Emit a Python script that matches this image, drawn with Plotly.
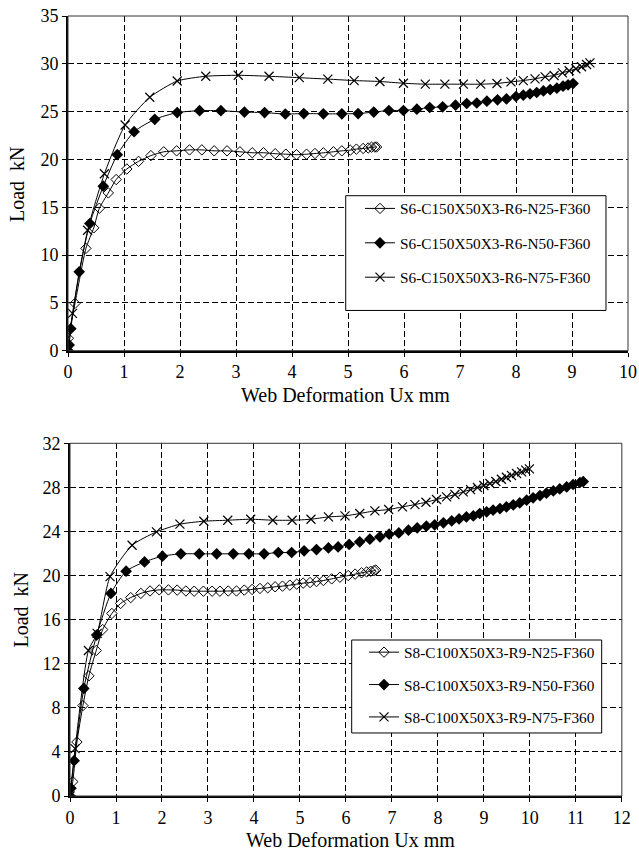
import plotly.graph_objects as go

# ---- Upper chart: S6-C150X50X3-R6 series ----
top_n25_x = [0, 0.006, 0.125, 0.32, 0.46, 0.56, 0.72, 0.86, 1.05, 1.26, 1.48, 1.71, 1.94, 2.17, 2.39,
             2.61, 2.84, 3.07, 3.29, 3.49, 3.70, 3.89, 4.08, 4.26, 4.41, 4.56, 4.74, 4.89, 5.04,
             5.15, 5.27, 5.36, 5.42, 5.48, 5.51]
top_n25_y = [0, 1.3, 4.95, 10.7, 12.85, 14.9, 16.5, 17.9, 19.0, 19.8, 20.4, 20.8, 20.9, 21.0, 21.0,
             20.9, 20.9, 20.8, 20.7, 20.7, 20.6, 20.55, 20.5, 20.55, 20.62, 20.69, 20.8, 20.9, 20.97,
             21.08, 21.15, 21.2, 21.28, 21.3, 21.3]

top_n50_x = [0, 0.02, 0.05, 0.2, 0.39, 0.63, 0.88, 1.18, 1.55, 1.95, 2.35, 2.73, 3.15, 3.51, 3.88,
             4.21, 4.56, 4.89, 5.18, 5.46, 5.73, 5.99, 6.23, 6.46, 6.69, 6.92, 7.12, 7.30, 7.48,
             7.67, 7.83, 8.0, 8.13, 8.25, 8.37, 8.49, 8.61, 8.73, 8.84, 8.93, 9.02]
top_n50_y = [0, 0.6, 2.3, 8.25, 13.3, 17.2, 20.5, 22.9, 24.2, 24.9, 25.1, 25.1, 24.95, 24.9, 24.75,
             24.8, 24.77, 24.77, 24.8, 24.95, 25.12, 25.12, 25.26, 25.43, 25.5, 25.67, 25.85, 25.9, 26.09,
             26.23, 26.33, 26.58, 26.72, 26.86, 27.0, 27.17, 27.31, 27.45, 27.66, 27.8, 27.94]

top_n75_x = [0, 0.08, 0.35, 0.65, 1.02, 1.46, 1.95, 2.46, 3.04, 3.59, 4.13, 4.64, 5.11, 5.57, 5.99,
             6.38, 6.73, 7.06, 7.37, 7.66, 7.91, 8.13, 8.34, 8.52, 8.68, 8.83, 8.95, 9.07, 9.17,
             9.26, 9.32]
top_n75_y = [0, 3.9, 12.6, 18.5, 23.6, 26.5, 28.2, 28.7, 28.8, 28.7, 28.55, 28.4, 28.25, 28.15, 27.97,
             27.87, 27.87, 27.87, 27.87, 27.94, 28.11, 28.25, 28.43, 28.64, 28.78, 29.06, 29.27, 29.48, 29.69,
             29.93, 30.1]

top_names = ["S6-C150X50X3-R6-N25-F360", "S6-C150X50X3-R6-N50-F360", "S6-C150X50X3-R6-N75-F360"]

# ---- Lower chart: S8-C100X50X3-R9 series ----
bot_n25_x = [0, 0.06, 0.15, 0.28, 0.41, 0.57, 0.71, 0.91, 1.10, 1.32, 1.54, 1.74, 1.94, 2.14, 2.33,
             2.52, 2.70, 2.90, 3.09, 3.26, 3.44, 3.62, 3.79, 3.96, 4.13, 4.30, 4.46, 4.62, 4.78,
             4.93, 5.07, 5.22, 5.36, 5.51, 5.69, 5.87, 6.05, 6.20, 6.34, 6.45, 6.54, 6.61, 6.65]
bot_n25_y = [0, 1.3, 4.9, 8.2, 10.9, 13.2, 15.1, 16.56, 17.47, 18.0, 18.38, 18.6, 18.7, 18.7, 18.68,
             18.6, 18.58, 18.58, 18.58, 18.58, 18.6, 18.6, 18.68, 18.74, 18.83, 18.89, 18.98, 19.04, 19.13,
             19.22, 19.31, 19.37, 19.46, 19.55, 19.7, 19.85, 20.0, 20.13, 20.25, 20.33, 20.39, 20.45, 20.5]

bot_n50_x = [0, 0.02, 0.09, 0.30, 0.58, 0.89, 1.22, 1.62, 2.01, 2.41, 2.81, 3.19, 3.55, 3.89, 4.22,
             4.53, 4.82, 5.09, 5.36, 5.62, 5.83, 6.07, 6.30, 6.52, 6.74, 6.94, 7.15, 7.36, 7.55,
             7.75, 7.93, 8.12, 8.30, 8.46, 8.62, 8.77, 8.91, 9.06, 9.20, 9.35, 9.49, 9.64, 9.78,
             9.93, 10.07, 10.22, 10.36, 10.51, 10.65, 10.80, 10.94, 11.09, 11.16]
bot_n50_y = [0, 0.7, 3.2, 9.76, 14.6, 18.38, 20.4, 21.24, 21.76, 21.97, 21.97, 21.97, 21.97, 21.97, 21.97,
             22.09, 22.09, 22.24, 22.36, 22.51, 22.6, 22.82, 23.06, 23.3, 23.51, 23.75, 23.87, 24.12, 24.32,
             24.48, 24.6, 24.78, 24.96, 25.14, 25.32, 25.41, 25.63, 25.78, 25.93, 26.08, 26.23, 26.41, 26.59,
             26.84, 27.05, 27.26, 27.47, 27.68, 27.86, 28.04, 28.26, 28.44, 28.53]

bot_n75_x = [0, 0.11, 0.40, 0.59, 0.87, 1.35, 1.88, 2.39, 2.91, 3.43, 3.93, 4.41, 4.83, 5.24, 5.62,
             5.98, 6.30, 6.63, 6.93, 7.23, 7.50, 7.74, 7.97, 8.19, 8.37, 8.55, 8.71, 8.86, 9.0,
             9.13, 9.26, 9.38, 9.49, 9.60, 9.71, 9.82, 9.91, 9.99]
bot_n75_y = [0, 4.3, 13.2, 14.75, 19.9, 22.75, 23.96, 24.66, 24.93, 25.02, 25.11, 25.02, 25.02, 25.11, 25.32,
             25.41, 25.63, 25.87, 25.99, 26.23, 26.44, 26.65, 26.9, 27.14, 27.35, 27.59, 27.8, 27.99, 28.17,
             28.35, 28.53, 28.74, 28.92, 29.08, 29.26, 29.4, 29.56, 29.68]

bot_names = ["S8-C100X50X3-R9-N25-F360", "S8-C100X50X3-R9-N50-F360", "S8-C100X50X3-R9-N75-F360"]

x_title = "Web Deformation Ux mm"
y_title = "Load  kN"

FONT = "Liberation Serif, Times New Roman, serif"

styles = [
    dict(symbol="diamond-open", size=8, color="black", line=dict(width=1, color="black")),
    dict(symbol="diamond", size=9, color="black", line=dict(width=0)),
    dict(symbol="x-thin-open", size=9, color="black", line=dict(width=1.2, color="black")),
]

fig = go.Figure()

top_series = [(top_n25_x, top_n25_y), (top_n50_x, top_n50_y), (top_n75_x, top_n75_y)]
for i, ((xs, ys), name) in enumerate(zip(top_series, top_names)):
    fig.add_trace(go.Scatter(
        x=xs, y=ys, name=name, mode="lines+markers",
        line=dict(color="black", width=1, shape="spline", smoothing=0.6),
        marker=styles[i], xaxis="x", yaxis="y",
        legend="legend", legendgroup="t%d" % i,
    ))

bot_series = [(bot_n25_x, bot_n25_y), (bot_n50_x, bot_n50_y), (bot_n75_x, bot_n75_y)]
for i, ((xs, ys), name) in enumerate(zip(bot_series, bot_names)):
    fig.add_trace(go.Scatter(
        x=xs, y=ys, name=name, mode="lines+markers",
        line=dict(color="black", width=1, shape="spline", smoothing=0.6),
        marker=styles[i], xaxis="x2", yaxis="y2",
        legend="legend2", legendgroup="b%d" % i,
    ))

axis_common = dict(
    showline=True, linecolor="black", linewidth=2, automargin=False,
    showgrid=True, gridcolor="black", gridwidth=1, griddash="6px,3px",
    zeroline=False, ticks="outside", ticklen=4, tickcolor="black",
    tickfont=dict(family=FONT, size=18, color="black"),
)

legend_common = dict(
    xanchor="left", yanchor="top",
    bgcolor="rgba(0,0,0,0)", borderwidth=0,
    font=dict(family=FONT, size=15.3, color="black"),
    traceorder="grouped",
)

fig.update_layout(
    width=639, height=854,
    margin=dict(l=68, r=11, t=16, b=58, autoexpand=False),
    paper_bgcolor="white", plot_bgcolor="white",
    font=dict(family=FONT, color="black"),
    xaxis=dict(domain=[0, 1], range=[0, 10], dtick=1, anchor="y", **axis_common),
    yaxis=dict(domain=[0.5709, 1], range=[0, 35], dtick=5, anchor="x", **axis_common),
    xaxis2=dict(domain=[0.0036, 0.989], range=[0, 12], dtick=1, anchor="y2", **axis_common),
    yaxis2=dict(domain=[0, 0.4522], range=[0, 32], dtick=4, anchor="x2", **axis_common),
    legend=dict(x=0.5214, y=0.7744, tracegroupgap=11.5, **legend_common),
    legend2=dict(x=0.5286, y=0.2055, tracegroupgap=9.5, **legend_common),
    showlegend=True,
)

# axis titles placed as paper annotations
title_font = dict(family=FONT, size=20, color="black")
for x, y in [(0.4964, 0.5141), (0.5036, -0.0564)]:
    fig.add_annotation(text=x_title, x=x, y=y, xref="paper", yref="paper",
                       xanchor="center", yanchor="middle", showarrow=False, font=title_font)
for x, y in [(-0.0911, 0.7846), (-0.0848, 0.2385)]:
    fig.add_annotation(text=y_title, x=x, y=y, xref="paper", yref="paper", textangle=-90,
                       xanchor="center", yanchor="middle", showarrow=False, font=title_font)

# thin frame on the top and right edges of each plot area
for xr, yr in [("x domain", "y domain"), ("x2 domain", "y2 domain")]:
    fig.add_shape(type="rect", xref=xr, yref=yr, x0=0, x1=1, y0=0, y1=1,
                  line=dict(color="#333333", width=1), layer="above")

# framed boxes behind the legends (paper coordinates)
for x0, x1, y0, y1 in [(0.4959, 0.9607, 0.6225, 0.7696), (0.5066, 0.9530, 0.0808, 0.2)]:
    fig.add_shape(type="rect", xref="paper", yref="paper", x0=x0, x1=x1, y0=y0, y1=y1,
                  line=dict(color="black", width=1), fillcolor="white", layer="above")

fig.write_html("out.html")
